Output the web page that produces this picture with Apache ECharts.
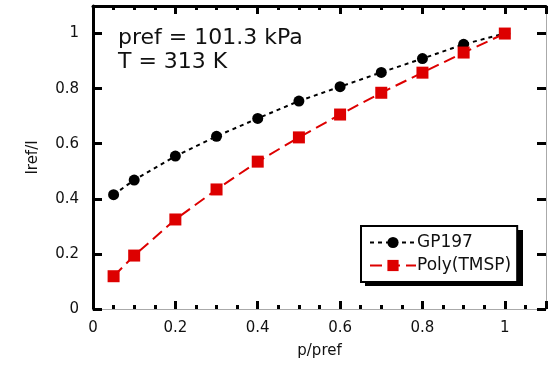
<!DOCTYPE html>
<html><head><meta charset="utf-8">
<script src="https://cdn.jsdelivr.net/npm/echarts@6/dist/echarts.min.js"></script>
<style>html,body{margin:0;padding:0;background:#fff}#c{width:555px;height:367px}</style>
</head><body><div id="c"></div>
<script>
const xValues = [0.05, 0.1, 0.2, 0.3, 0.4, 0.5, 0.6, 0.7, 0.8, 0.9, 1.0];
const gp197 = [0.415, 0.468, 0.555, 0.627, 0.692, 0.755, 0.807, 0.859, 0.909, 0.961, 1.0];
const polyTMSP = [0.119, 0.194, 0.325, 0.434, 0.535, 0.623, 0.706, 0.785, 0.858, 0.931, 1.0];
const xTicks = [0, 0.2, 0.4, 0.6, 0.8, 1];
const yTicks = [0, 0.2, 0.4, 0.6, 0.8, 1];

const font = 'DejaVu Sans';
const chart = echarts.init(document.getElementById('c'));
const pairs = a => xValues.map((x, i) => [x, a[i]]);
const fmt = v => (Math.abs(v - 1.1) < 1e-9 ? '' : String(+v.toFixed(2)));
chart.setOption({
  animation: false,
  grid: { left: 93, right: 9, top: 6, bottom: 58 },
  textStyle: { fontFamily: font },
  xAxis: [{
    type: 'value', min: 0, max: 1.1, interval: 0.2, position: 'bottom',
    name: 'p/pref', nameLocation: 'middle', nameGap: 35,
    nameTextStyle: { fontSize: 15, color: '#111', fontFamily: font },
    axisLine: { onZero: false, lineStyle: { color: '#aaa', width: 1 } },
    axisTick: { inside: true, length: 8, lineStyle: { color: '#000', width: 3 } },
    minorTick: { show: true, splitNumber: 4, length: 4, lineStyle: { color: '#000', width: 3 } },
    axisLabel: { fontSize: 15, color: '#111', margin: 12, formatter: fmt, showMaxLabel: false },
    splitLine: { show: false }
  }, {
    type: 'value', min: 0, max: 1.1, interval: 0.2, position: 'top',
    axisLine: { onZero: false, lineStyle: { color: '#000', width: 3 } },
    axisTick: { inside: true, length: 8, lineStyle: { color: '#000', width: 3 } },
    minorTick: { show: true, splitNumber: 4, length: 4, lineStyle: { color: '#000', width: 3 } },
    axisLabel: { show: false }, splitLine: { show: false }
  }],
  yAxis: [{
    type: 'value', min: 0, max: 1.1, interval: 0.2, position: 'left',
    name: 'Iref/I', nameLocation: 'middle', nameGap: 52, nameRotate: 90,
    nameTextStyle: { fontSize: 15, color: '#111', fontFamily: font },
    axisLine: { onZero: false, lineStyle: { color: '#000', width: 3 } },
    axisTick: { inside: true, length: 9, lineStyle: { color: '#000', width: 3 } },
    axisLabel: { fontSize: 15, color: '#111', margin: 14, formatter: fmt, showMaxLabel: false },
    splitLine: { show: false }
  }, {
    type: 'value', min: 0, max: 1.1, interval: 0.2, position: 'right',
    axisLine: { show: true, onZero: false, lineStyle: { color: '#aaa', width: 1 } },
    axisTick: { inside: true, length: 9, lineStyle: { color: '#000', width: 3 } },
    axisLabel: { show: false }, splitLine: { show: false }
  }],
  legend: {
    orient: 'vertical', left: 361, top: 226, itemWidth: 46, itemHeight: 14, itemGap: 6,
    padding: [8, 6, 8, 8], z: 5,
    backgroundColor: '#fff', borderColor: '#000', borderWidth: 2, borderRadius: 0,
    textStyle: { fontSize: 17, color: '#111', fontFamily: font, padding: [0, 0, 0, -4] },
    data: ['GP197', 'Poly(TMSP)']
  },
  graphic: [
    { type: 'rect', z: 1, shape: { x: 365, y: 230, width: 158, height: 56 }, style: { fill: '#000' } },
    { type: 'text', left: 118, top: 27, style: { text: 'pref = 101.3 kPa', font: '22px ' + font, fill: '#111' } },
    { type: 'text', left: 118, top: 51, style: { text: 'T = 313 K', font: '22px ' + font, fill: '#111' } }
  ],
  series: [{
    name: 'GP197', type: 'line', data: pairs(gp197),
    symbol: 'circle', symbolSize: 11, itemStyle: { color: '#000' },
    lineStyle: { color: '#000', width: 2, type: [4, 4] }
  }, {
    name: 'Poly(TMSP)', type: 'line', data: pairs(polyTMSP),
    symbol: 'rect', symbolSize: 12, itemStyle: { color: '#dd0000' },
    lineStyle: { color: '#dd0000', width: 2, type: [12, 6] }
  }]
});
</script></body></html>
